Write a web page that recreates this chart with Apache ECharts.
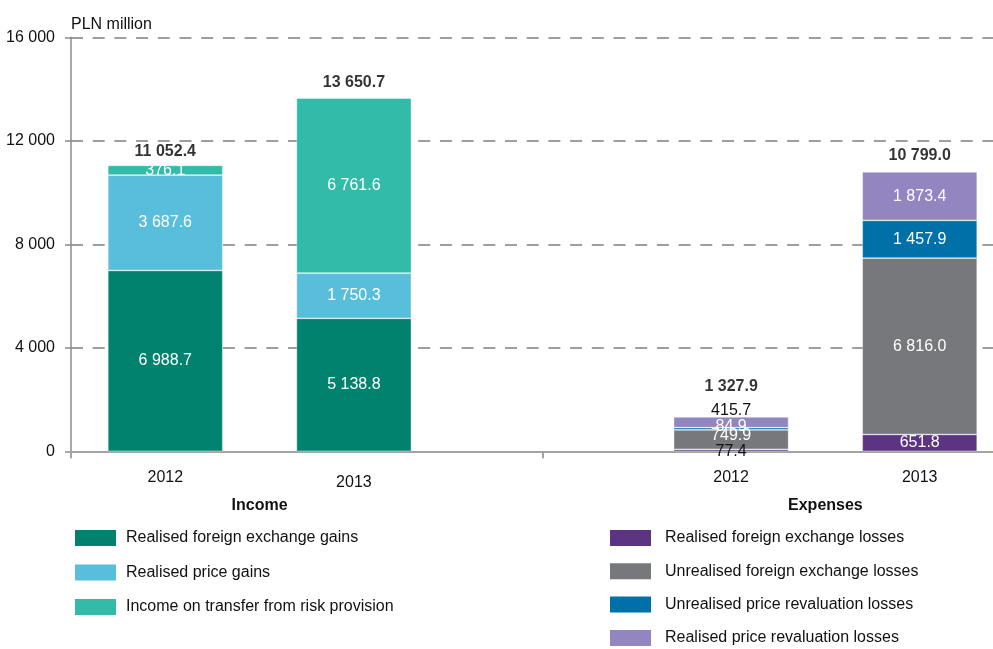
<!DOCTYPE html>
<html>
<head>
<meta charset="utf-8">
<script src="https://cdn.jsdelivr.net/npm/echarts@6/dist/echarts.min.js"></script>
<style>
  html, body { margin: 0; padding: 0; background: #fff; }
  #chart { width: 993px; height: 649px; }
</style>
</head>
<body>
<div id="chart"></div>
<script>
// Category layout: two year columns per group, with an empty slot between the groups
const groupNames = ['Income', 'Expenses'];
const years = ['2012', '2013'];
const yTicks = [0, 4000, 8000, 12000, 16000];

// Income (PLN million)
const incomeNames = [
  'Realised foreign exchange gains',
  'Realised price gains',
  'Income on transfer from risk provision'
];
const realisedFxGains = [6988.7, 5138.8];
const realisedPriceGains = [3687.6, 1750.3];
const riskProvisionIncome = [376.1, 6761.6];
const incomeTotals = [11052.4, 13650.7];

// Expenses (PLN million)
const expenseNames = [
  'Realised foreign exchange losses',
  'Unrealised foreign exchange losses',
  'Unrealised price revaluation losses',
  'Realised price revaluation losses'
];
const realisedFxLosses = [77.4, 651.8];
const unrealisedFxLosses = [749.9, 6816.0];
const unrealisedPriceLosses = [84.9, 1457.9];
const realisedPriceLosses = [415.7, 1873.4];
const expenseTotals = [1327.9, 10799.0];

// ---- layout helpers ----
const SLOT_COUNT = 11;
const incomeSlots = [1, 3];
const expenseSlots = [7, 9];
const groupSlots = [2, 8];
const separatorSlots = [0, 5];

const yearLabels = Array(SLOT_COUNT).fill('');
incomeSlots.forEach((s, i) => yearLabels[s] = years[i]);
expenseSlots.forEach((s, i) => yearLabels[s] = years[i]);
const groupLabels = Array(SLOT_COUNT).fill('');
groupSlots.forEach((s, i) => groupLabels[s] = groupNames[i]);

const FONT = '"Liberation Sans", Arial, sans-serif';
const FS = 16;

function fmt(v) {
  return v.toFixed(1).replace(/\B(?=(\d{3})+(?!\d))/g, ' ');
}
function fmtInt(v) {
  return String(Math.round(v)).replace(/\B(?=(\d{3})+(?!\d))/g, ' ');
}
function place(values, slots, overrides) {
  const d = Array(SLOT_COUNT).fill('-');
  slots.forEach((s, i) => {
    const o = overrides && overrides[i];
    d[s] = o ? Object.assign({ value: values[i] }, o) : values[i];
  });
  return d;
}

const colors = {
  fxGains: '#00826F',
  priceGains: '#58BEDB',
  provision: '#33BBAA',
  fxLosses: '#5C3484',
  unrealFx: '#77787B',
  unrealPrice: '#0070A8',
  realPrice: '#9385BF'
};

function barSeries(name, values, slots, color, overrides) {
  return {
    name: name,
    type: 'bar',
    stack: 'all',
    barWidth: 115,
    barGap: '-100%',
    itemStyle: { color: color, borderColor: 'rgba(255,255,255,0.45)', borderWidth: 0.8 },
    label: {
      show: true,
      position: 'inside',
      color: '#fff',
      fontFamily: FONT,
      fontSize: FS,
      formatter: p => fmt(p.value)
    },
    data: place(values, slots, overrides)
  };
}

// Stacked segments; the thin 2012 expense segments keep their labels slightly apart
const series = [
  barSeries(incomeNames[0], realisedFxGains, incomeSlots, colors.fxGains),
  barSeries(incomeNames[1], realisedPriceGains, incomeSlots, colors.priceGains),
  barSeries(incomeNames[2], riskProvisionIncome, incomeSlots, colors.provision),
  barSeries(expenseNames[0], realisedFxLosses, expenseSlots, colors.fxLosses,
    [{ label: { color: '#111', offset: [0, 1] } }, null]),
  barSeries(expenseNames[1], unrealisedFxLosses, expenseSlots, colors.unrealFx,
    [{ label: { offset: [0, -4] } }, null]),
  barSeries(expenseNames[2], unrealisedPriceLosses, expenseSlots, colors.unrealPrice,
    [{ label: { offset: [0, -2] } }, null]),
  barSeries(expenseNames[3], realisedPriceLosses, expenseSlots, colors.realPrice,
    [{ label: { color: '#111', offset: [0, -12] } }, null])
];

// Bold totals above each column
const totalsData = Array(SLOT_COUNT).fill('-');
incomeSlots.forEach((s, i) => {
  totalsData[s] = { value: incomeTotals[i], label: { distance: i === 0 ? 5 : 7 } };
});
expenseSlots.forEach((s, i) => {
  totalsData[s] = { value: expenseTotals[i], label: { distance: i === 0 ? 22 : 8 } };
});
series.push({
  name: 'totals',
  type: 'scatter',
  symbolSize: 1,
  silent: true,
  itemStyle: { color: 'rgba(0,0,0,0)' },
  label: {
    show: true,
    position: 'top',
    color: '#000',
    fontFamily: FONT,
    fontSize: FS,
    fontWeight: 'bold',
    formatter: p => fmt(p.value)
  },
  data: totalsData
});

const legendBase = {
  orient: 'vertical',
  top: 530,
  height: 130,
  padding: 0,
  icon: 'rect',
  itemWidth: 41,
  itemHeight: 16,
  itemStyle: { borderWidth: 0 },
  selectedMode: false
};

const option = {
  animation: false,
  backgroundColor: '#fff',
  textStyle: { fontFamily: FONT },
  grid: { left: 71, right: -21, top: 37.3, bottom: 197.7, outerBoundsMode: 'none' },
  legend: [
    Object.assign({}, legendBase, {
      data: incomeNames,
      left: 75,
      itemGap: 18.5,
      textStyle: { fontFamily: FONT, fontSize: FS, color: '#111', lineHeight: 16, padding: [0, 0, 0, 5] }
    }),
    Object.assign({}, legendBase, {
      data: expenseNames,
      left: 610,
      itemGap: 17.3,
      textStyle: { fontFamily: FONT, fontSize: FS, color: '#111', lineHeight: 16, padding: [0, 0, 0, 9] }
    })
  ],
  xAxis: [
    {
      type: 'category',
      data: yearLabels,
      boundaryGap: false,
      position: 'bottom',
      axisLine: { show: true, lineStyle: { color: '#A3A3A3', width: 2 } },
      axisTick: {
        show: true,
        length: 7,
        interval: idx => separatorSlots.indexOf(idx) >= 0,
        lineStyle: { color: '#A3A3A3', width: 2 }
      },
      axisLabel: {
        show: true,
        interval: 0,
        margin: 18,
        fontFamily: FONT,
        fontSize: FS,
        color: '#111',
        formatter: (v, idx) => idx === incomeSlots[1] ? '{low|' + v + '}' : v,
        rich: { low: { fontFamily: FONT, fontSize: FS, color: '#111', padding: [5, 0, 0, 0] } }
      },
      splitLine: { show: false }
    },
    {
      type: 'category',
      data: groupLabels,
      boundaryGap: false,
      position: 'bottom',
      axisLine: { show: false },
      axisTick: { show: false },
      axisLabel: {
        show: true,
        interval: 0,
        margin: 46,
        fontFamily: FONT,
        fontSize: FS,
        fontWeight: 'bold',
        color: '#111'
      },
      splitLine: { show: false }
    }
  ],
  yAxis: {
    type: 'value',
    min: yTicks[0],
    max: yTicks[yTicks.length - 1],
    interval: yTicks[1] - yTicks[0],
    name: 'PLN million',
    nameLocation: 'end',
    nameGap: 5,
    nameTextStyle: { fontFamily: FONT, fontSize: FS, color: '#111', align: 'left', verticalAlign: 'bottom' },
    axisLine: { show: true, lineStyle: { color: '#8C8C8C', width: 1.5 } },
    axisTick: { show: true, length: 6, lineStyle: { color: '#8C8C8C', width: 1.5 } },
    axisLabel: {
      margin: 16,
      fontFamily: FONT,
      fontSize: FS,
      color: '#111',
      formatter: v => fmtInt(v)
    },
    splitLine: {
      show: true,
      lineStyle: { color: '#7F7F7F', width: 1.5, type: [12, 9.7] }
    }
  },
  series: series
};

const chart = echarts.init(document.getElementById('chart'), null, { renderer: 'canvas' });
chart.setOption(option);
</script>
</body>
</html>
